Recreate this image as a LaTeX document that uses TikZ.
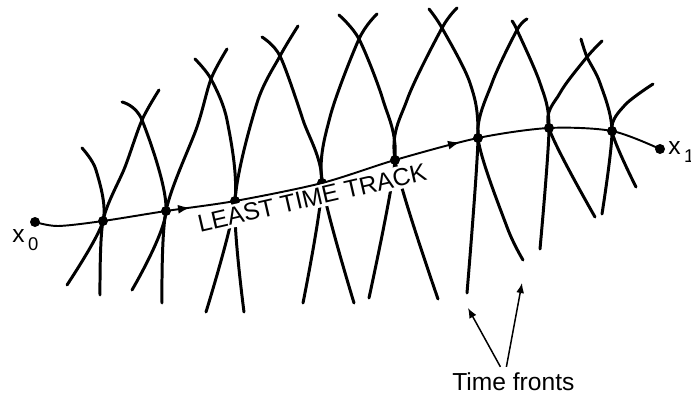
\documentclass[tikz,border=0pt]{standalone}
\usepackage{fontspec}
\setmainfont{Liberation Sans}
\usetikzlibrary{arrows.meta, decorations.markings}
\tikzset{
    front/.style={line width=1.7pt, line cap=round},
    trk/.style={line width=1.1pt},
    dot/.style={circle, fill, inner sep=0pt, minimum size=2mm},
    lbl/.style={font=\fontsize{14}{16}\selectfont, inner sep=0pt},
    ptr/.style={line width=0.85pt, -{Latex[length=2mm,width=1.6mm]}},
    tt/.style={x=0.02cm, y=-0.02cm}
}

\begin{document}
\begin{tikzpicture}[tt]
    \useasboundingbox (0,0) rectangle (691,396);

    \node[dot] (x0) at (35,222) {};
    \node[dot] (p1) at (103,221) {};
    \node[dot] (p2) at (166,211) {};
    \node[dot] (p3) at (235,201) {};
    \node[dot] (p4) at (322,183) {};
    \node[dot] (p5) at (395,160) {};
    \node[dot] (p6) at (478,138) {};
    \node[dot] (p7) at (549,128) {};
    \node[dot] (p8) at (612,131) {};
    \node[dot] (x4) at (660,149) {};

    \node[lbl, anchor=base west] (x0l) at (12,242)
        {x\hspace{2pt}\raisebox{-5pt}{\fontsize{10.5}{12}\selectfont 0}};
    \node[lbl, anchor=base west] (x4l) at (668,154)
        {x\hspace{2pt}\raisebox{-5pt}{\fontsize{10.5}{12}\selectfont 1}};

    % time fronts
    \draw[front] plot[smooth] coordinates {(82,148) (96,170) (p1.center) (67,285)};
    \draw[front] plot[smooth] coordinates {(100,295) (p1.center) (125,167) (142,120) (159,90)};
    \draw[front] plot[smooth] coordinates {(122,102) (142,120) (p2.center) (132,290)};
    \draw[front] plot[smooth] coordinates {(162,303) (p2.center) (197,127) (211,79) (227,49)};
    \draw[front] plot[smooth] coordinates {(195,59) (211,79) (227,120) (p3.center) (206,312)};
    \draw[front] plot[smooth] coordinates {(244,312) (p3.center) (257,103) (280,56) (298,26)};
    \draw[front] plot[smooth] coordinates {(262,37) (280,56) (303,120) (p4.center) (303,303)};
    \draw[front] plot[smooth] coordinates {(354,303) (p4.center) (330,117) (359,39) (377,14)};
    \draw[front] plot[smooth] coordinates {(339,15) (359,39) (383,100) (p5.center) (369,298)};
    \draw[front] plot[smooth] coordinates {(438,299) (p5.center) (407,100) (442,28) (457,8)};
    \draw[front] plot[smooth] coordinates {(429,9) (442,28) (470,83) (p6.center) (467,293)};
    \draw[front] plot[smooth] coordinates {(523,260) (507,227) (p6.center) (492,83) (517,30) (527,19)};
    \draw[front] plot[smooth] coordinates {(512,21) (517,30) (540,83) (p7.center) (540,249)};
    \draw[front] plot[smooth] coordinates {(595,217) (p7.center) (560,93) (587,57) (602,41)};
    \draw[front] plot[smooth] coordinates {(581,39) (587,57) (600,83) (p8.center) (602,214)};
    \draw[front] plot[smooth] coordinates {(636,187) (p8.center) (625,105) (653,84)};

    % least time track
    \node[lbl, anchor=base, rotate=13, fill=white, inner sep=1.5pt] (ltt) at (314,206)
        {LEAST TIME TRACK};
    \draw[trk, postaction={decorate}, decoration={markings,
        mark=at position 0.245 with {\arrow{Latex[length=2.4mm,width=1.8mm]}},
        mark=at position 0.68 with {\arrow{Latex[length=2.4mm,width=1.8mm]}}}]
        plot[smooth] coordinates {(x0.center) (58,226) (p1.center) (p2.center)
        (p3.center) (p4.center) (p5.center) (p6.center) (p7.center)
        (p8.center) (x4.center)};

    % pointers
    \node[lbl, anchor=base west] (tf) at (452,390) {Time fronts};
    \coordinate (tip1) at (468,308);
    \coordinate (tip2) at (522,283);
    \draw[ptr] ([xshift=-13*0.02cm, yshift=0.1cm]tf.north) -- (tip1);
    \draw[ptr] ([xshift=-7*0.02cm, yshift=0.1cm]tf.north) -- (tip2);
\end{tikzpicture}
\end{document}
